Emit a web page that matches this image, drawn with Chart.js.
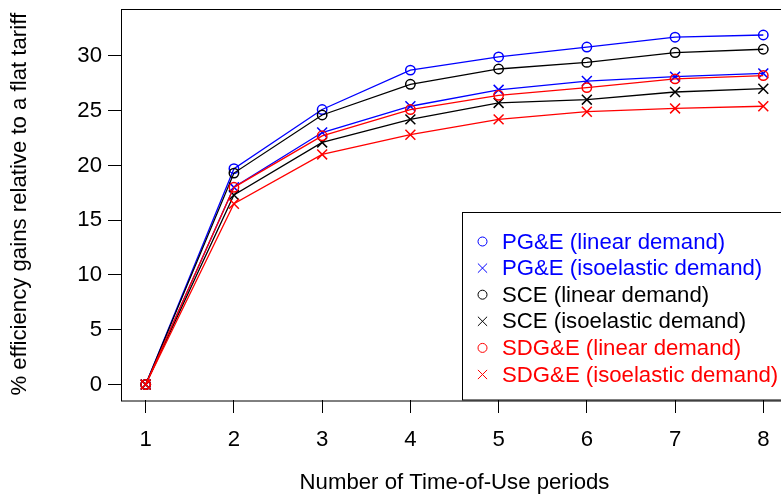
<!DOCTYPE html>
<html><head><meta charset="utf-8">
<script src="https://cdn.jsdelivr.net/npm/chart.js@4"></script>
<style>html,body{margin:0;padding:0;overflow:hidden;background:#fff}#wrap{width:781px;height:495px;overflow:hidden;position:relative}canvas{position:absolute;left:0;top:0}</style>
</head><body><div id="wrap"><canvas id="c" width="800" height="495"></canvas></div>
<script>
const periods = [1, 2, 3, 4, 5, 6, 7, 8];
const pgeLinear = [0, 19.7, 25.1, 28.7, 29.9, 30.8, 31.7, 31.9];
const pgeIso    = [0, 18.0, 23.0, 25.4, 26.9, 27.7, 28.1, 28.4];
const sceLinear = [0, 19.3, 24.6, 27.4, 28.8, 29.4, 30.3, 30.6];
const sceIso    = [0, 17.3, 22.1, 24.2, 25.7, 26.0, 26.7, 27.0];
const sdgLinear = [0, 18.0, 22.7, 25.1, 26.4, 27.1, 27.9, 28.2];
const sdgIso    = [0, 16.5, 21.0, 22.8, 24.2, 24.9, 25.2, 25.4];
const seriesLabels = ['PG&E (linear demand)', 'PG&E (isoelastic demand)', 'SCE (linear demand)', 'SCE (isoelastic demand)', 'SDG&E (linear demand)', 'SDG&E (isoelastic demand)'];
const yTicks = [0, 5, 10, 15, 20, 25, 30];
const xTicks = [1, 2, 3, 4, 5, 6, 7, 8];

const FONT = '"Liberation Sans", Arial, Helvetica, sans-serif';
const FS = 22.2;
const colors = ['#0000ff', '#0000ff', '#000000', '#000000', '#ff0000', '#ff0000'];
const styles = ['circle', 'crossRot', 'circle', 'crossRot', 'circle', 'crossRot'];
const values = [pgeLinear, pgeIso, sceLinear, sceIso, sdgLinear, sdgIso];

const datasets = values.map((vals, i) => ({
  label: seriesLabels[i],
  data: periods.map((p, j) => ({x: p, y: vals[j]})),
  borderColor: colors[i],
  backgroundColor: colors[i],
  borderWidth: 1.3,
  pointStyle: styles[i],
  pointRadius: styles[i] === 'circle' ? 4.7 : 7,
  pointBorderWidth: 1.5,
  pointBackgroundColor: 'rgba(0,0,0,0)',
  pointBorderColor: colors[i],
  tension: 0,
  order: 5 - i
}));

const boxPlugin = {
  id: 'boxPlugin',
  afterDraw(chart) {
    const a = chart.chartArea, ctx = chart.ctx;
    ctx.save();
    ctx.strokeStyle = '#000'; ctx.lineWidth = 1;
    ctx.strokeRect(Math.round(a.left) + 0.5, Math.round(a.top) + 0.5, a.right - a.left, a.bottom - a.top);
    ctx.restore();
  }
};

const legendPlugin = {
  id: 'legendPlugin',
  afterDatasetsDraw(chart) {
    const a = chart.chartArea, ctx = chart.ctx;
    const bx = 462.5, by = 212.5;
    ctx.save();
    ctx.fillStyle = '#fff';
    ctx.fillRect(bx, by, a.right - bx, a.bottom - by);
    ctx.strokeStyle = '#000'; ctx.lineWidth = 1;
    ctx.strokeRect(bx, by, a.right - bx + 5, a.bottom - by);
    const ds = chart.data.datasets;
    ds.forEach((d, i) => {
      const y = 241.5 + i * 26.6;
      ctx.strokeStyle = d.borderColor;
      ctx.fillStyle = 'rgba(0,0,0,0)';
      Chart.helpers.drawPoint(ctx, {pointStyle: d.pointStyle, radius: d.pointStyle === 'circle' ? 4.5 : 6.5, rotation: 0, borderWidth: 1.5}, 482.5, y);
      ctx.fillStyle = d.borderColor;
      ctx.font = FS + 'px ' + FONT;
      ctx.textBaseline = 'middle';
      ctx.textAlign = 'left';
      ctx.fillText(d.label, 502, y + 1);
    });
    ctx.restore();
  }
};

new Chart(document.getElementById('c'), {
  type: 'line',
  data: {datasets},
  plugins: [legendPlugin, boxPlugin],
  options: {
    responsive: false,
    devicePixelRatio: 1,
    animation: false,
    layout: {padding: {top: 7, right: 12, left: 0, bottom: 0}},
    plugins: {legend: {display: false}, tooltip: {enabled: false}},
    scales: {
      x: {
        type: 'linear', min: 0.72, max: 8.28, position: 'bottom',
        afterBuildTicks: s => { s.ticks = xTicks.map(v => ({value: v})); },
        afterFit: s => { s.height = 95; s.paddingLeft = 0; s.paddingRight = 0; },
        grid: {display: true, drawOnChartArea: false, drawTicks: true, tickLength: 13, color: '#000', lineWidth: 1},
        border: {display: false},
        ticks: {color: '#000', font: {size: FS, family: FONT}, padding: 14, maxRotation: 0},
        title: {display: true, text: 'Number of Time-of-Use periods', color: '#000', font: {size: FS, family: FONT}, padding: {top: 0, bottom: -1}}
      },
      y: {
        type: 'linear', min: -1.41, max: 34.32, position: 'left',
        afterBuildTicks: s => { s.ticks = yTicks.map(v => ({value: v})); },
        afterFit: s => { s.width = 121; s.paddingTop = 0; s.paddingBottom = 0; },
        grid: {display: true, drawOnChartArea: false, drawTicks: true, tickLength: 13, color: '#000', lineWidth: 1},
        border: {display: false},
        ticks: {color: '#000', font: {size: FS, family: FONT}, padding: 6},
        title: {display: true, text: '% efficiency gains relative to a flat tariff', color: '#000', font: {size: FS, family: FONT}, padding: {top: 7, bottom: 0}}
      }
    }
  }
});
</script>
</body></html>
